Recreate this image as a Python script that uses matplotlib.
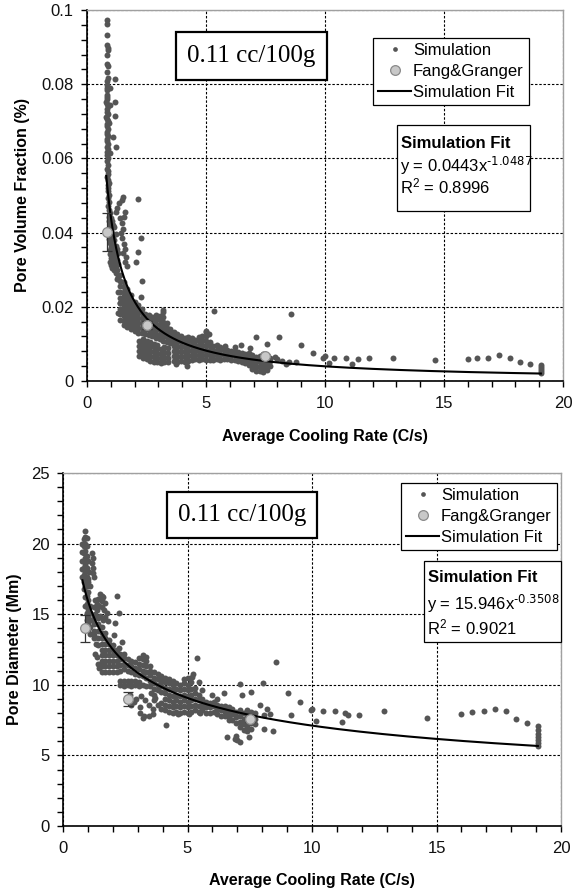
import numpy as np
import matplotlib
matplotlib.use("Agg")
import matplotlib.pyplot as plt
from matplotlib.patches import Rectangle
from matplotlib.lines import Line2D
from matplotlib.ticker import MultipleLocator, FixedLocator, FixedFormatter

plt.rcParams['font.family'] = ['Liberation Sans', 'DejaVu Sans']
plt.rcParams['mathtext.default'] = 'regular'

# ---------------- DATA: top panel (Pore Volume Fraction) ----------------
top_streak = [(0.85, 0.0972), (0.86, 0.0962), (0.84, 0.0932), (0.85, 0.0905), (0.87, 0.0898), (0.88, 0.0892),
              (0.85, 0.0880), (0.86, 0.0855), (0.88, 0.0848), (0.85, 0.0832), (0.87, 0.0818), (0.84, 0.0808),
              (0.86, 0.0798), (0.83, 0.0790), (0.85, 0.0784), (0.82, 0.0772), (0.84, 0.0766), (0.86, 0.0760),
              (0.81, 0.0752), (0.84, 0.0746), (0.87, 0.0740), (0.82, 0.0732), (0.85, 0.0726), (0.88, 0.0720),
              (0.81, 0.0712), (0.84, 0.0706), (0.87, 0.0700), (0.82, 0.0692), (0.85, 0.0686), (0.88, 0.0680),
              (0.83, 0.0672), (0.86, 0.0666), (0.89, 0.0660), (0.82, 0.0652), (0.85, 0.0646), (0.88, 0.0640),
              (0.84, 0.0632), (0.87, 0.0626), (0.83, 0.0616), (0.86, 0.0608), (0.89, 0.0600), (0.85, 0.0592),
              (0.88, 0.0582), (0.84, 0.0572), (0.87, 0.0565), (0.90, 0.0558), (0.86, 0.0550), (0.89, 0.0542),
              (0.92, 0.0535), (0.87, 0.0528), (0.90, 0.0520), (0.88, 0.0512), (0.92, 0.0502), (0.90, 0.0492),
              (0.93, 0.0482), (0.89, 0.0472), (0.92, 0.0462), (0.95, 0.0452), (0.91, 0.0442), (0.94, 0.0432),
              (0.97, 0.0422), (0.92, 0.0412), (0.95, 0.0402), (0.98, 0.0392), (0.93, 0.0382), (0.96, 0.0372),
              (0.99, 0.0362), (0.95, 0.0352), (0.98, 0.0342), (1.01, 0.0332), (0.97, 0.0322), (1.00, 0.0312),
              (1.03, 0.0305)]

top_near = [(1.18, 0.0813), (1.18, 0.0753), (1.18, 0.0713), (1.11, 0.0657), (1.22, 0.0632), (0.95, 0.0790),
            (0.97, 0.0745), (0.93, 0.0695), (0.96, 0.0615),
            (1.00, 0.0440), (1.05, 0.0430), (1.10, 0.0420), (1.00, 0.0410), (1.05, 0.0400), (1.10, 0.0390),
            (1.15, 0.0380), (1.02, 0.0380), (1.07, 0.0370), (1.12, 0.0360), (1.17, 0.0350), (1.22, 0.0340),
            (1.03, 0.0350), (1.08, 0.0340), (1.13, 0.0330), (1.18, 0.0320), (1.23, 0.0310), (1.28, 0.0300),
            (1.05, 0.0320), (1.10, 0.0310), (1.15, 0.0300), (1.20, 0.0290), (1.30, 0.0280), (1.27, 0.0325),
            (1.32, 0.0315), (1.22, 0.0365), (1.27, 0.0355), (1.32, 0.0345), (1.20, 0.0395), (1.15, 0.0415),
            (1.53, 0.0497), (1.46, 0.0488), (1.36, 0.0480), (1.27, 0.0466), (1.22, 0.0456), (1.60, 0.0456),
            (1.55, 0.0443), (1.40, 0.0440), (1.45, 0.0425), (1.50, 0.0410), (1.42, 0.0400), (1.48, 0.0385),
            (1.55, 0.0370), (1.60, 0.0355), (1.52, 0.0345), (1.65, 0.0335), (1.58, 0.0320), (1.70, 0.0310),
            (2.16, 0.0490), (2.25, 0.0385), (2.16, 0.0349), (2.06, 0.0322), (2.30, 0.0270), (2.25, 0.0227),
            (1.32, 0.0241), (1.27, 0.0274), (1.39, 0.0209), (1.32, 0.0184), (3.20, 0.0192)]

top_cols = [(1.40, [0.0165, 0.0180, 0.0195, 0.0210, 0.0225, 0.0240, 0.0255, 0.0270, 0.0285]),
            (1.55, [0.0150, 0.0163, 0.0176, 0.0189, 0.0202, 0.0215, 0.0228, 0.0241, 0.0254, 0.0267]),
            (1.70, [0.0145, 0.0158, 0.0171, 0.0184, 0.0197, 0.0210, 0.0223, 0.0236, 0.0249]),
            (1.85, [0.0140, 0.0153, 0.0166, 0.0179, 0.0192, 0.0205, 0.0218, 0.0231]),
            (2.00, [0.0135, 0.0148, 0.0161, 0.0174, 0.0187, 0.0200, 0.0213]),
            (2.15, [0.0130, 0.0143, 0.0156, 0.0169, 0.0182, 0.0195, 0.0205]),
            (2.20, [0.0068, 0.0081, 0.0094, 0.0107]),
            (2.30, [0.0130, 0.0143, 0.0156, 0.0169, 0.0182, 0.0193]),
            (2.35, [0.0062, 0.0075, 0.0088, 0.0101, 0.0112]),
            (2.45, [0.0128, 0.0141, 0.0154, 0.0167, 0.0180]),
            (2.50, [0.0058, 0.0071, 0.0084, 0.0097, 0.0108]),
            (2.60, [0.0125, 0.0138, 0.0151, 0.0164, 0.0177]),
            (2.65, [0.0055, 0.0068, 0.0081, 0.0094, 0.0104]),
            (2.75, [0.0120, 0.0133, 0.0146, 0.0159, 0.0172]),
            (2.80, [0.0052, 0.0065, 0.0078, 0.0091, 0.0100]),
            (2.90, [0.0115, 0.0128, 0.0141, 0.0154, 0.0167, 0.0178]),
            (2.95, [0.0050, 0.0063, 0.0076, 0.0089, 0.0098]),
            (3.05, [0.0112, 0.0125, 0.0138, 0.0151, 0.0164, 0.0176]),
            (3.10, [0.0048, 0.0061, 0.0074, 0.0087]),
            (3.20, [0.0108, 0.0121, 0.0134, 0.0147, 0.0160, 0.0172, 0.0185]),
            (3.25, [0.0052, 0.0065, 0.0078, 0.0091]),
            (3.35, [0.0105, 0.0118, 0.0131, 0.0144, 0.0157]),
            (3.40, [0.0050, 0.0063, 0.0076, 0.0089]),
            (3.50, [0.0102, 0.0115, 0.0128, 0.0140]),
            (3.65, [0.0055, 0.0068, 0.0081, 0.0094, 0.0107, 0.0120, 0.0133]),
            (3.80, [0.0052, 0.0065, 0.0078, 0.0091, 0.0104, 0.0117, 0.0128]),
            (3.95, [0.0055, 0.0068, 0.0081, 0.0094, 0.0107, 0.0120]),
            (4.10, [0.0052, 0.0065, 0.0078, 0.0091, 0.0104, 0.0117]),
            (4.25, [0.0055, 0.0068, 0.0081, 0.0094, 0.0107, 0.0118]),
            (4.40, [0.0057, 0.0070, 0.0083, 0.0096, 0.0109, 0.0115]),
            (4.55, [0.0058, 0.0071, 0.0084, 0.0097, 0.0110]),
            (4.70, [0.0056, 0.0069, 0.0082, 0.0095, 0.0108, 0.0118]),
            (4.85, [0.0058, 0.0071, 0.0084, 0.0097, 0.0110, 0.0122]),
            (5.00, [0.0056, 0.0069, 0.0082, 0.0095, 0.0108, 0.0121, 0.0133]),
            (5.15, [0.0057, 0.0070, 0.0083, 0.0096, 0.0106]),
            (5.30, [0.0056, 0.0069, 0.0082, 0.0095]),
            (5.45, [0.0058, 0.0071, 0.0084, 0.0096]),
            (5.60, [0.0057, 0.0070, 0.0083, 0.0092]),
            (5.75, [0.0059, 0.0072, 0.0085]),
            (5.90, [0.0058, 0.0071, 0.0084]),
            (6.05, [0.0057, 0.0070, 0.0082]),
            (6.20, [0.0056, 0.0069, 0.0080]),
            (6.35, [0.0054, 0.0067, 0.0079]),
            (6.50, [0.0050, 0.0063, 0.0076]),
            (6.65, [0.0048, 0.0061, 0.0074]),
            (6.80, [0.0042, 0.0055, 0.0068, 0.0076]),
            (6.95, [0.0032, 0.0045, 0.0058, 0.0071]),
            (7.10, [0.0026, 0.0039, 0.0052, 0.0065]),
            (7.25, [0.0028, 0.0041, 0.0054, 0.0067]),
            (7.40, [0.0025, 0.0038, 0.0051, 0.0064, 0.0074]),
            (7.55, [0.0030, 0.0043, 0.0056, 0.0066]),
            (7.70, [0.0040, 0.0053, 0.0063]),
            (19.07, [0.0022, 0.0027, 0.0032, 0.0037, 0.0042])]

top_far = [(5.33, 0.0190), (5.78, 0.0094), (6.47, 0.0096), (7.10, 0.0119), (7.55, 0.0101), (8.06, 0.0119),
           (8.57, 0.0180), (9.00, 0.0096), (9.48, 0.0076), (9.90, 0.0061), (9.98, 0.0067), (10.37, 0.0063),
           (10.90, 0.0061), (11.37, 0.0060), (11.83, 0.0061), (12.87, 0.0061), (14.62, 0.0056), (16.00, 0.0060),
           (16.40, 0.0063), (16.84, 0.0063), (17.30, 0.0069), (17.77, 0.0063), (18.20, 0.0052), (18.60, 0.0045),
           (10.17, 0.0048), (11.14, 0.0045), (8.00, 0.0060), (8.20, 0.0055), (8.50, 0.0052), (7.90, 0.0066),
           (8.35, 0.0047), (8.80, 0.0050), (4.20, 0.0040), (3.74, 0.0045), (4.98, 0.0135), (5.13, 0.0126),
           (6.85, 0.0090), (6.20, 0.0092)]

fg_x_top = [0.82, 2.51, 7.47]
fg_y_top = [0.0402, 0.0151, 0.0067]
fg_err_top = [0.0052, 0.0012, 0.0006]
fit_a_top, fit_b_top = 0.0443, -1.0487
fit_eq_top = ("0.0443", "-1.0487")
r2_top = "0.8996"

# ---------------- DATA: bottom panel (Pore Diameter) ----------------
bot_cols = [(0.78, [17.6, 18.2, 18.8, 19.4, 20.0]),
            (0.84, [16.8, 17.3, 17.8, 18.3, 18.8, 19.3, 19.8, 20.3]),
            (0.90, [15.6, 16.2, 17.0, 17.5, 18.0, 18.5, 19.0, 19.5, 20.0, 20.5, 20.9]),
            (0.96, [14.6, 15.1, 15.7, 16.3, 17.0, 17.6, 18.3, 19.1, 19.8]),
            (1.02, [13.9, 14.4, 14.9, 15.4, 16.0, 16.6, 17.3]),
            (1.10, [13.6, 14.1, 14.6, 15.1, 15.6]),
            (1.25, [13.3, 13.8, 14.3, 14.8]),
            (1.40, [12.8, 13.3, 13.8, 14.3]),
            (1.55, [10.9, 11.3, 11.7, 12.1, 12.5, 12.9, 13.3, 13.7, 14.1]),
            (1.70, [10.9, 11.3, 11.7, 12.1, 12.5, 12.9, 13.3, 13.7]),
            (1.85, [10.9, 11.3, 11.7, 12.1, 12.5, 12.9, 13.2]),
            (2.00, [10.9, 11.3, 11.7, 12.1, 12.5, 12.8]),
            (2.15, [10.9, 11.3, 11.7, 12.1, 12.5]),
            (2.30, [10.0, 10.3, 11.0, 11.4, 11.8, 12.2]),
            (2.45, [9.9, 10.25, 11.1, 11.5, 11.9, 12.2]),
            (2.60, [10.0, 10.3, 11.0, 11.4, 11.8]),
            (2.75, [9.95, 10.25, 10.9, 11.3, 11.7]),
            (2.90, [10.0, 10.3, 10.8, 11.2, 11.6]),
            (3.05, [9.9, 10.2, 10.7, 11.1, 11.5, 11.9]),
            (3.20, [10.0, 10.6, 11.0, 11.4, 11.8, 12.1]),
            (3.35, [9.9, 10.5, 10.9, 11.3, 11.7, 12.0]),
            (3.50, [9.9, 10.3, 10.7, 11.0, 11.3]),
            (3.65, [8.9, 9.3, 9.7, 10.1, 10.5, 10.9]),
            (3.80, [8.6, 9.6, 10.0, 10.4, 10.8]),
            (3.95, [8.3, 8.7, 9.5, 9.9, 10.3, 10.6]),
            (4.10, [8.2, 8.6, 9.0, 9.4, 9.8, 10.2, 10.5]),
            (4.25, [8.1, 8.5, 8.9, 9.3, 9.7, 10.1, 10.4]),
            (4.40, [8.0, 8.4, 8.8, 9.2, 9.6, 10.0, 10.3]),
            (4.55, [8.1, 8.5, 8.9, 9.3, 9.7, 10.1]),
            (4.70, [8.0, 8.4, 8.8, 9.2, 9.6, 10.0]),
            (4.85, [8.1, 8.5, 8.9, 9.3, 9.7, 10.1, 10.4]),
            (5.00, [8.0, 8.4, 8.8, 9.2, 9.6, 10.0, 10.5]),
            (5.15, [8.1, 8.5, 8.9, 9.3, 9.7, 10.2]),
            (5.30, [8.2, 8.6, 9.0, 9.4, 9.8]),
            (5.45, [8.1, 8.5, 8.9, 9.3]),
            (5.60, [8.2, 8.6, 9.0]),
            (5.75, [8.0, 8.4, 8.8]),
            (5.90, [8.0, 8.4, 8.7]),
            (6.05, [8.1, 8.5, 8.8]),
            (6.20, [7.9, 8.3, 8.6]),
            (6.35, [7.8, 8.2, 8.5]),
            (6.50, [7.8, 8.1, 8.5]),
            (6.65, [7.7, 8.0, 8.4]),
            (6.80, [7.5, 7.9, 8.3]),
            (6.95, [7.3, 7.7, 8.1]),
            (7.10, [7.0, 7.4, 7.8, 8.2]),
            (7.25, [6.8, 7.2, 7.6, 8.0]),
            (7.40, [6.7, 7.1, 7.5, 7.9, 8.2]),
            (7.55, [6.9, 7.3, 7.7, 8.1]),
            (7.70, [7.2, 7.6, 8.0]),
            (19.07, [5.7, 5.9, 6.1, 6.3, 6.5, 6.8, 7.1])]

bot_near = [(1.17, 19.3), (1.20, 19.0), (1.18, 18.6), (1.22, 18.3), (1.20, 17.9), (1.24, 17.6), (1.00, 18.8),
            (1.05, 18.0), (0.95, 20.4), (1.00, 17.5), (1.10, 17.0),
            (1.49, 16.4), (1.62, 16.2), (1.42, 16.1), (1.29, 16.0), (1.69, 15.8), (1.55, 15.5), (1.35, 15.3),
            (1.75, 15.1), (1.49, 14.9), (1.22, 14.6), (1.62, 14.6), (1.56, 16.3), (1.36, 15.7), (1.45, 15.6),
            (1.58, 15.9), (1.66, 15.3), (1.40, 14.7), (1.70, 14.8), (1.80, 14.5), (1.25, 15.5), (1.30, 15.0),
            (2.18, 16.3), (2.25, 15.07), (2.09, 14.4), (2.05, 13.5), (2.36, 13.05), (2.26, 12.6),
            (1.26, 13.5), (1.32, 12.9), (1.35, 12.0), (1.29, 12.2), (1.40, 11.5), (1.45, 11.2),
            (2.86, 8.8), (3.09, 8.45), (3.25, 7.76), (3.47, 7.76), (3.60, 7.95), (2.70, 9.3), (2.95, 9.0),
            (3.15, 9.2), (3.30, 8.9), (3.45, 8.6), (3.60, 8.3), (3.70, 9.1), (3.55, 9.4), (2.75, 8.6),
            (3.09, 8.0), (3.22, 7.62)]

bot_far = [(8.57, 11.65), (5.40, 11.9), (7.10, 10.07), (8.03, 10.12), (7.54, 9.48), (7.17, 9.25), (6.46, 9.41),
           (9.02, 9.43), (9.50, 8.77), (9.95, 8.18), (10.00, 8.30), (10.45, 8.11), (10.94, 8.11), (11.34, 8.00),
           (11.43, 7.83), (11.87, 7.83), (12.90, 8.11), (14.63, 7.67), (16.00, 7.95), (16.44, 8.07),
           (16.90, 8.14), (17.34, 8.30), (17.78, 8.14), (18.20, 7.60), (18.64, 7.29), (10.15, 7.43),
           (11.19, 7.36), (9.14, 7.83), (8.43, 6.72), (8.09, 6.89), (8.06, 7.83), (6.65, 7.48), (6.58, 6.30),
           (6.90, 6.15), (7.00, 6.06), (7.10, 5.94), (6.95, 6.35), (7.47, 6.30), (4.14, 7.12), (4.63, 7.90),
           (5.07, 7.90), (5.50, 8.00), (8.20, 8.30), (7.90, 8.60), (8.30, 7.90), (5.24, 10.8), (5.17, 10.55),
           (5.45, 10.2), (5.60, 9.6), (6.00, 9.3), (6.20, 9.0)]

fg_x_bot = [0.88, 2.60, 7.51]
fg_y_bot = [14.0, 9.0, 7.56]
fg_err_bot = [0.95, 0.5, 0.2]
fit_a_bot, fit_b_bot = 15.946, -0.3508
fit_eq_bot = ("15.946", "-0.3508")
r2_bot = "0.9021"

x_ticks = [0, 5, 10, 15, 20]
top_yticks = [0, 0.02, 0.04, 0.06, 0.08, 0.1]
top_ytick_labels = ["0", "0.02", "0.04", "0.06", "0.08", "0.1"]
bot_yticks = [0, 5, 10, 15, 20, 25]
bot_ytick_labels = ["0", "5", "10", "15", "20", "25"]

# ---------------- DRAWING ----------------
W, H = 575, 890
fig = plt.figure(figsize=(W / 100, H / 100), dpi=100)


def fx(px):
    return px / W


def fy(py):
    return 1 - py / H


def collect(cols, *lists):
    xs, ys = [], []
    for x, yl in cols:
        xs += [x] * len(yl)
        ys += list(yl)
    for lst in lists:
        for x, y in lst:
            xs.append(x)
            ys.append(y)
    return np.array(xs), np.array(ys)


SIM_COLOR = '#555555'


def panel(box, cols, near, far, fgx, fgy, fgerr, a, b, eq, r2, yticks, ylabels, yminor, ymax,
          ylabel, ylabel_x, xlabel_y, label_box, legend_pos, fit_box, fit_ys):
    l, t, r, btm = box
    ax = fig.add_axes([fx(l), fy(btm), (r - l) / W, (btm - t) / H])
    xs, ys = collect(cols, near, far)
    ax.plot(xs, ys, 'o', ms=4.3, color=SIM_COLOR, mew=0, zorder=2)
    xf = np.geomspace(xs.min(), xs.max(), 300)
    ax.plot(xf, a * xf ** b, color='black', lw=1.5, zorder=3)
    ax.errorbar(fgx, fgy, yerr=fgerr, fmt='none', ecolor='#333333', elinewidth=0.9,
                capsize=3.5, capthick=0.9, zorder=4)
    ax.plot(fgx, fgy, 'o', ms=7, mfc='#c8c8c8', mec='#8a8a8a', mew=0.9, zorder=5)

    ax.set_xlim(0, 20)
    ax.set_ylim(0, ymax)
    ax.xaxis.set_major_locator(FixedLocator(x_ticks))
    ax.xaxis.set_minor_locator(MultipleLocator(1))
    ax.yaxis.set_major_locator(FixedLocator(yticks))
    ax.yaxis.set_major_formatter(FixedFormatter(ylabels))
    ax.yaxis.set_minor_locator(MultipleLocator(yminor))
    ax.tick_params(which='both', direction='out', length=4.5, width=1.0, color='black',
                   top=False, right=False, labelsize=12, labelcolor='#111111')
    ax.tick_params(axis='x', which='both', pad=6)
    ax.tick_params(axis='y', which='both', pad=5)
    ax.grid(which='major', color='black', linestyle=(0, (2.2, 1.6)), linewidth=0.8)
    ax.set_axisbelow(True)
    for s in ['left', 'bottom']:
        ax.spines[s].set_color('black')
        ax.spines[s].set_linewidth(1.2)
    for s in ['top', 'right']:
        ax.spines[s].set_color('#a0a0a0')
        ax.spines[s].set_linewidth(1.0)

    fig.text(fx((l + r) / 2), fy(xlabel_y), "Average Cooling Rate (C/s)", ha='center', va='center',
             fontsize=11.5, fontweight='bold')
    fig.text(fx(ylabel_x), fy((t + btm) / 2), ylabel, ha='center', va='center', rotation=90,
             fontsize=11.5, fontweight='bold')

    # composition label box
    bl, bt, br, bb = label_box
    fig.add_artist(Rectangle((fx(bl), fy(bb)), (br - bl) / W, (bb - bt) / H, transform=fig.transFigure,
                             facecolor='white', edgecolor='black', lw=1.6, zorder=6))
    fig.text(fx((bl + br) / 2), fy((bt + bb) / 2), "0.11 cc/100g", ha='center', va='center',
             fontsize=18, family=['Liberation Serif', 'DejaVu Serif'], zorder=7)

    # legend
    handles = [Line2D([], [], marker='o', ls='none', ms=3.4, color=SIM_COLOR, mew=0),
               Line2D([], [], marker='o', ls='none', ms=7, mfc='#c8c8c8', mec='#8a8a8a', mew=0.9),
               Line2D([], [], color='black', lw=1.5)]
    leg = fig.legend(handles, ["Simulation", "Fang&Granger", "Simulation Fit"], loc='upper left',
                     bbox_to_anchor=(fx(legend_pos[0]), fy(legend_pos[1])), bbox_transform=fig.transFigure,
                     frameon=True, fancybox=False, edgecolor='black', framealpha=1, fontsize=12,
                     borderpad=0.3, handlelength=2.0, handletextpad=0.1, labelspacing=0.35,
                     borderaxespad=0)
    leg.get_frame().set_linewidth(0.9)
    leg.set_zorder(8)

    # fit box
    fl, ft, fr, fb = fit_box
    fig.add_artist(Rectangle((fx(fl), fy(fb)), (fr - fl) / W, (fb - ft) / H, transform=fig.transFigure,
                             facecolor='white', edgecolor='black', lw=0.9, zorder=6))
    fig.text(fx(fl + 4), fy(fit_ys[0]), "Simulation Fit", ha='left', va='center_baseline', fontsize=12,
             fontweight='bold', zorder=7)
    fig.text(fx(fl + 3), fy(fit_ys[1]), "y = " + eq[0] + "x$^{\\text{" + eq[1] + "}}$", ha='left',
             va='center_baseline', fontsize=12, zorder=7)
    fig.text(fx(fl + 3), fy(fit_ys[2]), "R$^{2}$ = " + r2, ha='left', va='center_baseline',
             fontsize=12, zorder=7)
    return ax


panel((87, 10, 563, 381), top_cols, top_streak + top_near, top_far, fg_x_top, fg_y_top, fg_err_top,
      fit_a_top, fit_b_top, fit_eq_top, r2_top, top_yticks, top_ytick_labels, 0.004, 0.1,
      "Pore Volume Fraction (%)", 23, 436, (176, 32, 327, 80), (373, 38), (397, 125, 530, 211),
      (141.7, 163.3, 185))

panel((63, 473, 561, 826), bot_cols, bot_near, bot_far, fg_x_bot, fg_y_bot, fg_err_bot,
      fit_a_bot, fit_b_bot, fit_eq_bot, r2_bot, bot_yticks, bot_ytick_labels, 1, 25,
      "Pore Diameter (Mm)", 15, 880, (167, 492, 317, 538), (401, 483), (424, 561, 561, 642),
      (576, 601.7, 625.7))

fig.savefig("out.png", dpi=100)
